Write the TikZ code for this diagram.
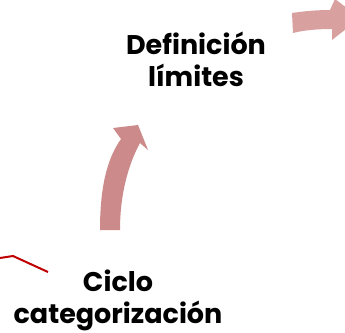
\documentclass[tikz,border=0pt]{standalone}
\usepackage{fontspec}
\setmainfont{Poppins}
\definecolor{roseA}{RGB}{205,138,138}
\definecolor{roseB}{RGB}{217,160,160}
\definecolor{redline}{RGB}{192,0,0}
\begin{document}
\begin{tikzpicture}[x=1pt,y=-1pt,
  lbl/.style={font=\bfseries\fontsize{27}{32}\selectfont, align=center, text=black, inner sep=0pt},
  arrA/.style={fill=roseA, draw=none},
  arrB/.style={fill=roseB, draw=none}]
\useasboundingbox (0,0) rectangle (345,332);
% curved arrow
\fill[arrA] (100,230) .. controls (100,190) and (106,160) .. (121,139)
  -- (113,128) -- (138,125) -- (148,150) -- (140,143)
  .. controls (128,165) and (120,195) .. (120,230) -- cycle;
% top right arrow
\begin{scope}
\clip (0,0) rectangle (345,332);
\fill[arrB] (292,13) .. controls (305,11) and (318,10) .. (330,10)
  -- (335,-1) -- (360,18) -- (332,40) -- (332,29)
  .. controls (318,29) and (305,30) .. (293,33) -- cycle;
\end{scope}
% red line
\coordinate (r0) at (0,258);
\coordinate (r1) at (13,256);
\coordinate (r2) at (48,272);
\draw[redline, line width=2pt] (r0) -- (r1) -- (r2);
\node[lbl] (def) at (196,59) {Definición\\límites};
\node[lbl] (cic) at (118,300) {Ciclo\\categorización};
\end{tikzpicture}
\end{document}
